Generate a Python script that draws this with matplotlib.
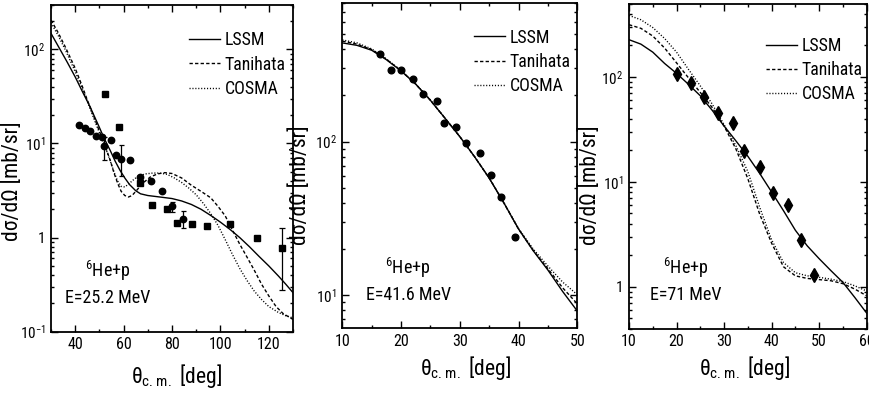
import numpy as np
import matplotlib
matplotlib.use('Agg')
import matplotlib.pyplot as plt
from matplotlib import font_manager
from matplotlib.ticker import FuncFormatter, MultipleLocator, LogLocator, NullFormatter

# ---------------- data ----------------
nan = np.nan
# Panel 1: 6He+p, E=25.2 MeV
p1_circ_theta = [41.4, 43.9, 46.2, 48.7, 51.0, 52.1, 54.9, 56.9, 59.1, 62.7, 66.8, 71.3, 75.7, 80.0, 84.4]
p1_circ_val   = [15.7, 14.7, 13.6, 12.1, 11.6, 9.3, 10.9, 7.6, 6.9, 6.7, 4.4, 4.0, 3.13, 2.17, 1.57]
p1_circ_lo    = [nan, nan, nan, nan, nan, 6.6, nan, nan, 4.5, nan, nan, nan, nan, 1.86, 1.28]
p1_circ_hi    = [nan, nan, nan, nan, nan, 11.8, nan, nan, 9.6, nan, nan, nan, nan, 2.4, 1.92]
p1_sq_theta = [52.5, 57.9, 66.8, 71.6, 77.8, 81.9, 88.1, 94.3, 104.0, 115.3, 125.6]
p1_sq_val   = [33.5, 14.8, 3.8, 2.24, 2.0, 1.43, 1.38, 1.32, 1.41, 0.99, 0.78]
p1_sq_lo    = [nan, nan, nan, nan, nan, nan, nan, nan, nan, nan, 0.28]
p1_sq_hi    = [nan, nan, nan, nan, nan, nan, nan, nan, nan, nan, 1.28]

p1_lssm_theta = [30, 33, 36.6, 40, 43, 46, 50, 52, 54.5, 56.5, 58.5, 60.5, 62.5, 65, 67, 70, 75, 80,
                 84, 88, 92, 96, 100, 104, 108, 112, 116, 120, 124, 127, 130]
p1_lssm_val = [148, 108, 74, 51, 35.5, 25.0, 14.8, 11.3, 8.4, 6.5, 5.2, 4.3, 3.65, 3.15, 2.92, 2.8, 2.7, 2.6,
               2.45, 2.25, 2.0, 1.72, 1.46, 1.22, 1.0, 0.8, 0.63, 0.5, 0.39, 0.32, 0.26]
p1_tan_theta = [30, 33, 36, 40, 43, 45, 47.5, 50, 52, 54.5, 56, 57.5, 59, 60.5, 62, 63.5, 65.5, 68, 71,
                74, 77, 80, 84, 88, 92, 96, 99, 102, 105, 108, 111, 114, 117, 120, 123, 126, 128, 130]
p1_tan_val = [205, 150, 105, 63, 40, 29, 20, 13.5, 10, 6.6, 4.9, 3.8, 3.1, 2.8, 2.7, 2.8, 3.2, 3.8, 4.4,
              4.75, 4.9, 4.8, 4.3, 3.6, 3.1, 2.65, 2.15, 1.7, 1.2, 0.85, 0.62, 0.45, 0.32, 0.24, 0.185,
              0.155, 0.145, 0.135]
p1_cos_theta = [30, 33, 36, 40, 43, 45, 47.5, 50, 52, 54.5, 56, 57.5, 59, 60.5, 62, 64, 66, 69, 72, 75,
                78, 81, 84, 87, 90, 93, 96, 99, 102, 105, 108, 111, 114, 117, 120, 124, 127, 130]
p1_cos_val = [192, 140, 98, 58, 38, 28, 19, 13, 9.8, 6.5, 5.0, 4.0, 3.5, 3.45, 3.7, 4.1, 4.5, 4.75, 4.85,
              4.85, 4.7, 4.3, 3.85, 3.35, 2.85, 2.3, 1.8, 1.35, 0.95, 0.66, 0.47, 0.35, 0.27, 0.22,
              0.185, 0.16, 0.148, 0.14]

# Panel 2: 6He+p, E=41.6 MeV
p2_theta = [16.4, 18.3, 20.0, 22.1, 23.8, 26.1, 27.3, 29.4, 31.1, 33.4, 35.3, 37.0, 39.4]
p2_val   = [375, 295, 295, 255, 206, 184, 133, 125, 98.6, 84, 61, 43.5, 23.9]
p2_curve_theta = [10, 12.5, 15, 17.5, 20, 22.5, 25, 27.5, 30, 32.5, 35, 37.5, 40, 42.5, 45, 47.5, 50]
p2_lssm_val = [440, 424, 394, 342, 289, 237, 186, 142, 108, 80, 58, 40, 27, 19.5, 14.6, 10.6, 7.9]
p2_tan_val  = [452, 432, 398, 344, 290, 237, 186, 142, 108, 80, 58, 40, 27, 19.6, 14.9, 11.2, 8.8]
p2_cos_val  = [460, 440, 402, 346, 291, 238, 187, 142, 108, 80, 58, 40, 27.2, 20, 15.5, 12.2, 10.1]

# Panel 3: 6He+p, E=71 MeV
p3_theta = [20.0, 23.0, 25.8, 28.7, 31.8, 34.2, 37.6, 40.2, 43.4, 46.2, 48.9]
p3_val   = [106, 86.5, 64.6, 44.9, 36, 19.7, 13.8, 7.8, 5.96, 2.81, 1.29]
p3_curve_theta = [10, 12.5, 15, 17.5, 20, 22.5, 25, 27.5, 30, 32.5, 35, 37.5, 40, 42.5, 45, 47.5,
                  50, 52.5, 55, 57.5, 60]
p3_lssm_val = [226, 205, 172, 134, 108, 85, 66, 48, 34, 24.5, 17.5, 12.0, 8.0, 5.3, 3.45, 2.45,
               1.85, 1.42, 1.1, 0.79, 0.56]
p3_tan_val  = [314, 290, 245, 188, 136, 98, 71, 51, 34, 20.5, 10.7, 4.9, 2.6, 1.55, 1.27, 1.2,
               1.17, 1.14, 1.07, 0.95, 0.82]
p3_cos_val  = [385, 350, 295, 232, 172, 118, 82, 55, 35, 22, 12.5, 5.7, 2.8, 1.7, 1.36, 1.27,
               1.23, 1.18, 1.12, 1.02, 0.91]

series_names = ['LSSM', 'Tanihata', 'COSMA']
energy_labels = ['E=25.2 MeV', 'E=41.6 MeV', 'E=71 MeV']

# ---------------- style ----------------
names = {f.name for f in font_manager.fontManager.ttflist}
base = 'Liberation Sans'
narrow = False
for cand in ['Liberation Sans Narrow', 'Roboto Condensed', 'Arial Narrow']:
    if cand in names:
        base = cand
        narrow = True
        break
plt.rcParams['font.family'] = [base, 'Liberation Sans', 'DejaVu Sans']
plt.rcParams['mathtext.default'] = 'regular'

fs_xtick = 11.5 if narrow else 10.5
fs_ytick = 11 if narrow else 10
fs_leg = 12.8 if narrow else 11
fs_txt = 13 if narrow else 11
fs_lab = 15.5 if narrow else 14

styles = [dict(ls='-', lw=1.0, color='black'),
          dict(ls=(0, (2.4, 1.6)), lw=1.0, color='black'),
          dict(ls=(0, (0.8, 1.3)), lw=1.0, color='black')]

fig = plt.figure(figsize=(8.7, 3.94), dpi=100)
W, H = 870.0, 394.0
boxes = [(51, 293, 4.5, 331.7), (342.3, 577.3, 3, 328.3), (629, 866.7, 3.5, 328.5)]
axes = []
for (l, r, t, b) in boxes:
    axes.append(fig.add_axes([l / W, 1 - b / H, (r - l) / W, (b - t) / H]))


def log_fmt(v, pos):
    e = int(round(np.log10(v)))
    if e == 0:
        return '1'
    return r'$10^{%d}$' % e


def style_axes(ax, xlim, ylim, xmaj, xmin):
    ax.set_yscale('log')
    ax.set_xlim(*xlim)
    ax.set_ylim(*ylim)
    ax.xaxis.set_major_locator(MultipleLocator(xmaj))
    ax.xaxis.set_minor_locator(MultipleLocator(xmin))
    ax.yaxis.set_major_locator(LogLocator(base=10))
    ax.yaxis.set_minor_locator(LogLocator(base=10, subs=np.arange(2, 10)))
    ax.yaxis.set_major_formatter(FuncFormatter(log_fmt))
    ax.yaxis.set_minor_formatter(NullFormatter())
    ax.tick_params(which='both', direction='in', top=True, right=True, width=1.0)
    ax.tick_params(axis='x', labelsize=fs_xtick)
    ax.tick_params(axis='y', labelsize=fs_ytick)
    ax.tick_params(which='major', length=5, pad=4)
    ax.tick_params(which='minor', length=2.5)
    for s in ax.spines.values():
        s.set_linewidth(1.3)
    ax.set_xlabel(r'$θ_{c.m.}$ [deg]', fontsize=fs_lab)
    ax.set_ylabel('dσ/dΩ [mb/sr]', fontsize=fs_lab)


ax1, ax2, ax3 = axes
# panel 1
style_axes(ax1, (30, 130), (0.1, 300), 20, 10)
curves1 = [(p1_lssm_theta, p1_lssm_val), (p1_tan_theta, p1_tan_val), (p1_cos_theta, p1_cos_val)]
for (tx, vy), st, nm in zip(curves1, styles, series_names):
    ax1.plot(tx, vy, label=nm, **st)
c_lo = np.array(p1_circ_val) - np.array(p1_circ_lo)
c_hi = np.array(p1_circ_hi) - np.array(p1_circ_val)
ax1.errorbar(p1_circ_theta, p1_circ_val, yerr=[c_lo, c_hi], fmt='o', ms=4.6, color='black',
             elinewidth=0.9, capsize=1.8, capthick=0.9)
s_lo = np.array(p1_sq_val) - np.array(p1_sq_lo)
s_hi = np.array(p1_sq_hi) - np.array(p1_sq_val)
ax1.errorbar(p1_sq_theta, p1_sq_val, yerr=[s_lo, s_hi], fmt='s', ms=4.0, color='black',
             elinewidth=0.9, capsize=2.2, capthick=0.9)

# panel 2
style_axes(ax2, (10, 50), (6.1, 800), 10, 5)
for vy, st, nm in zip([p2_lssm_val, p2_tan_val, p2_cos_val], styles, series_names):
    ax2.plot(p2_curve_theta, vy, label=nm, **st)
ax2.plot(p2_theta, p2_val, 'o', ms=4.8, color='black', ls='none')

# panel 3
style_axes(ax3, (10, 60), (0.4, 500), 10, 5)
for vy, st, nm in zip([p3_lssm_val, p3_tan_val, p3_cos_val], styles, series_names):
    ax3.plot(p3_curve_theta, vy, label=nm, **st)
ax3.plot(p3_theta, p3_val, 'd', ms=7.5, color='black', ls='none')

# labels / legends / annotations
leg_pos = [(0.570, 0.918), (0.560, 0.921), (0.576, 0.897)]
ylab_pos = [(-0.162, 0.46), (-0.178, 0.44), (-0.165, 0.44)]
xlab_pos = [(0.517, -0.135), (0.526, -0.122), (0.488, -0.122)]
txt_x = [0.236, 0.28, 0.24]
for ax, lp, yl, xl, tx, el in zip(axes, leg_pos, ylab_pos, xlab_pos, txt_x, energy_labels):
    ax.legend(loc='upper left', bbox_to_anchor=lp, frameon=False, fontsize=fs_leg,
              handlelength=2.0 if not narrow else 1.75, handletextpad=0.25,
              labelspacing=0.35 if narrow else 0.4, borderpad=0, borderaxespad=0)
    ax.yaxis.set_label_coords(*yl)
    ax.yaxis.label.set_verticalalignment('center')
    ax.xaxis.set_label_coords(*xl)
    ax.xaxis.label.set_verticalalignment('center')
    ax.text(tx, 0.185, r'$^{6}$He+p', transform=ax.transAxes, ha='center', va='center', fontsize=fs_txt)
    ax.text(tx, 0.103, el, transform=ax.transAxes, ha='center', va='center', fontsize=fs_txt)

fig.savefig('out.png', dpi=100, facecolor='white')
